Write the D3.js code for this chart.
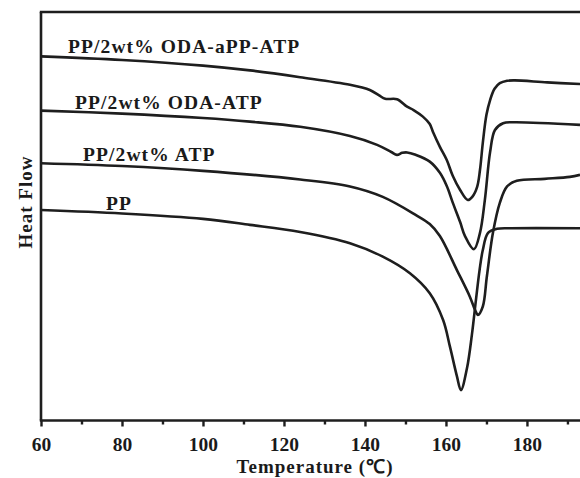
<!DOCTYPE html>
<html>
<head>
<meta charset="utf-8">
<script src="https://cdn.jsdelivr.net/npm/d3@7"></script>
<style>
  body { margin: 0; background: #fff; }
  svg text { font-family: "Liberation Serif", "Times New Roman", serif; font-weight: bold; fill: #1a1a1a; }
</style>
</head>
<body>
<div id="chart"></div>
<script>
// DSC melting curves, heat flow in arbitrary units
var seriesNames = ["PP/2wt% ODA-aPP-ATP", "PP/2wt% ODA-ATP", "PP/2wt% ATP", "PP"];

var tempOdaAppAtp = [60, 80, 100, 111.6, 124, 136.3, 141.2, 143.5, 145, 147.9, 150.4, 152, 154.3, 156, 156.8, 158.5, 160.2, 161.7, 163.5, 165.4, 166.5, 167.7, 168.4, 169.1, 170, 170.9, 172, 173.3, 175.1, 177, 185, 193.1];
var flowOdaAppAtp = [91.0, 90.1, 88.7, 87.5, 85.8, 83.9, 82.6, 81.25, 80.4, 80.3, 78.45, 77.6, 75.95, 74.1, 72.1, 68.4, 65.1, 61.1, 57.6, 55.1, 55.9, 58.4, 62.6, 69.4, 76.4, 80.1, 82.9, 84.3, 84.9, 85.0, 84.5, 84.1];

var tempOdaAtp = [60, 80, 100, 111.6, 124, 136.3, 143, 146.5, 147.9, 149.2, 150.4, 152.5, 156, 158.5, 160.2, 161.7, 163.5, 164.7, 166.9, 168.4, 169.6, 170.9, 172.1, 174.1, 176.5, 193.1];
var flowOdaAtp = [77.45, 76.7, 75.6, 74.7, 73.4, 71.1, 68.9, 67.1, 66.4, 66.9, 67.0, 66.4, 64.7, 61.9, 58.6, 54.4, 49.6, 46.1, 42.8, 46.9, 55.1, 67.1, 72.6, 74.3, 74.55, 73.9];

var tempAtp = [60, 80, 100, 124, 136.3, 144.4, 152.5, 156, 158.5, 162.7, 165.9, 167.2, 167.9, 169.1, 170.1, 171.6, 173.3, 175.1, 177.5, 184.4, 190.6, 193.1];
var flowAtp = [64.3, 63.6, 62.4, 60.25, 58.5, 55.9, 51.4, 49.1, 46.1, 37.6, 30.95, 27.6, 26.4, 28.5, 36.0, 46.9, 54.4, 58.5, 59.9, 60.4, 60.9, 61.4];

var tempPP = [60, 80, 100, 111.6, 124, 136.3, 144.4, 151.1, 156, 159.3, 161, 162.7, 163.7, 165.2, 166.4, 167.4, 168.3, 169.1, 170.4, 172.6, 176, 193.1];
var flowPP = [52.6, 51.75, 50.4, 48.9, 47.1, 44.3, 40.95, 36.8, 31.8, 25.1, 18.4, 11.1, 7.6, 13.1, 21.4, 30.1, 37.6, 42.6, 46.9, 47.9, 48.05, 48.05];

var majorTicks = [60, 80, 100, 120, 140, 160, 180];
var minorTicks = [70, 90, 110, 130, 150, 170, 190];

var svgWidth = 580;
var svgHeight = 478;

var margin = { top: 12, right: 0, bottom: 57.5, left: 41 };
var chartWidth = svgWidth - margin.left - margin.right;
var chartHeight = svgHeight - margin.top - margin.bottom;

var svg = d3.select("#chart").append("svg")
    .attr("width", svgWidth)
    .attr("height", svgHeight);

var chartGroup = svg.append("g")
    .attr("transform", `translate(${margin.left}, ${margin.top})`);

var xScale = d3.scaleLinear()
    .domain([60, 193.1])
    .range([0, chartWidth]);

var yScale = d3.scaleLinear()
    .domain([0, 102.1])
    .range([chartHeight, 0]);

svg.append("defs").append("clipPath").attr("id", "plotClip")
  .append("rect")
    .attr("width", chartWidth)
    .attr("height", chartHeight);

// curves
var curves = [
  { name: seriesNames[0], t: tempOdaAppAtp, v: flowOdaAppAtp },
  { name: seriesNames[1], t: tempOdaAtp, v: flowOdaAtp },
  { name: seriesNames[2], t: tempAtp, v: flowAtp },
  { name: seriesNames[3], t: tempPP, v: flowPP }
];

var line = d3.line()
    .x(d => xScale(d[0]))
    .y(d => yScale(d[1]))
    .curve(d3.curveCatmullRom.alpha(0.5));

chartGroup.append("g")
    .attr("clip-path", "url(#plotClip)")
  .selectAll("path")
  .data(curves)
  .enter()
  .append("path")
    .attr("d", c => line(c.t.map((t, i) => [t, c.v[i]])))
    .attr("fill", "none")
    .attr("stroke", "#1e1e1e")
    .attr("stroke-width", 2.6)
    .attr("stroke-linejoin", "round");

// curve labels, placed just above where each curve starts
var labelX = [68, 75, 83, 106];
var labelDy = [-3, -2, -2, -0.5];
chartGroup.selectAll(".curve-label")
  .data(curves)
  .enter()
  .append("text")
    .attr("class", "curve-label")
    .attr("x", (c, i) => labelX[i] - margin.left)
    .attr("y", (c, i) => yScale(c.v[0]) + labelDy[i])
    .attr("font-size", 19.5)
    .attr("letter-spacing", 1.1)
    .text(c => c.name);

// x axis: major + minor ticks
var xAxis = d3.axisBottom(xScale)
    .tickValues(majorTicks)
    .tickSize(6)
    .tickSizeOuter(0)
    .tickPadding(11)
    .tickFormat(d3.format("d"));

var xAxisG = chartGroup.append("g")
    .attr("transform", `translate(0, ${chartHeight})`)
    .call(xAxis);
xAxisG.select(".domain").remove();
xAxisG.selectAll("line").attr("stroke", "#1e1e1e").attr("stroke-width", 2.4);
xAxisG.selectAll("text")
    .attr("font-size", 19.5)
    .attr("font-family", "Liberation Serif, Times New Roman, serif")
    .attr("font-weight", "bold")
    .attr("fill", "#1a1a1a");

var xMinor = chartGroup.append("g")
    .attr("transform", `translate(0, ${chartHeight})`)
    .call(d3.axisBottom(xScale).tickValues(minorTicks).tickSize(4).tickSizeOuter(0).tickFormat(""));
xMinor.select(".domain").remove();
xMinor.selectAll("line").attr("stroke", "#1e1e1e").attr("stroke-width", 2.4);

// frame: bottom, left, top
chartGroup.append("line")
    .attr("x1", -1.2).attr("x2", chartWidth)
    .attr("y1", chartHeight).attr("y2", chartHeight)
    .attr("stroke", "#1e1e1e").attr("stroke-width", 2.6);
chartGroup.append("line")
    .attr("x1", 0).attr("x2", 0)
    .attr("y1", 0).attr("y2", chartHeight)
    .attr("stroke", "#1e1e1e").attr("stroke-width", 2.6);
chartGroup.append("line")
    .attr("x1", -1.2).attr("x2", chartWidth)
    .attr("y1", 0).attr("y2", 0)
    .attr("stroke", "#1e1e1e").attr("stroke-width", 2.6);

// axis titles
svg.append("text")
    .attr("x", 315)
    .attr("y", 473)
    .attr("text-anchor", "middle")
    .attr("font-size", 19)
    .attr("letter-spacing", 1)
    .text("Temperature (℃)");

svg.append("text")
    .attr("transform", "translate(32, 202) rotate(-90)")
    .attr("text-anchor", "middle")
    .attr("font-size", 19)
    .attr("letter-spacing", 1)
    .text("Heat Flow");
</script>
</body>
</html>
